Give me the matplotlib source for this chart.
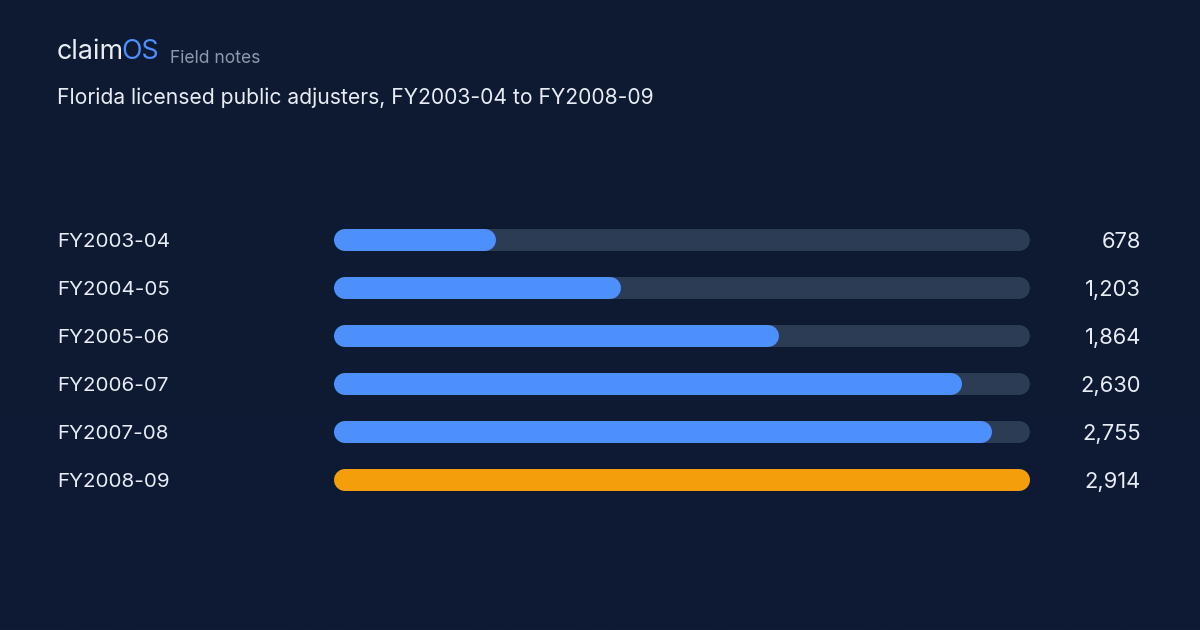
import numpy as np
import matplotlib
matplotlib.use("Agg")
import matplotlib.pyplot as plt
from matplotlib.colors import LinearSegmentedColormap
from matplotlib.transforms import IdentityTransform

# ---- data ----
categories = ["FY2003-04", "FY2004-05", "FY2005-06", "FY2006-07", "FY2007-08", "FY2008-09"]
values = [678, 1203, 1864, 2630, 2755, 2914]
value_labels = ["678", "1,203", "1,864", "2,630", "2,755", "2,914"]
highlight = "FY2008-09"

title_brand = "claim"
title_brand2 = "OS"
title_tag = "Field notes"
subtitle = "Florida licensed public adjusters, FY2003-04 to FY2008-09"

# ---- style ----
W, H = 1200, 630
BG_TOP = "#0f1a31"
BG_BOT = "#0e1b34"
TRACK = "#2d3c55"
BLUE = "#4d8ffd"
ORANGE = "#f59e0b"
TEXT = "#e8edf5"
MUTED = "#8d99ad"
FONT = ["Inter", "DejaVu Sans"]

fig = plt.figure(figsize=(W / 100, H / 100), dpi=100)
fig.patch.set_facecolor(BG_TOP)

# background gradient
bg = fig.add_axes([0, 0, 1, 1], zorder=0)
grad = np.linspace(0, 1, 256).reshape(-1, 1)
cmap = LinearSegmentedColormap.from_list("bg", [BG_TOP, BG_BOT])
bg.imshow(grad, aspect="auto", cmap=cmap, extent=[0, 1, 0, 1])
bg.set_axis_off()

# overlay axes in pixel coordinates for text
ov = fig.add_axes([0, 0, 1, 1], zorder=2)
ov.set_xlim(0, W)
ov.set_ylim(H, 0)
ov.set_axis_off()
ov.patch.set_alpha(0)

brand_fs = 19.3
brand_base = 59
t1 = ov.text(57, brand_base, title_brand, color=TEXT, fontsize=brand_fs, family=FONT,
             va="baseline", ha="left")
fig.canvas.draw()
bb1 = t1.get_window_extent()
t2 = ov.text(bb1.x1 - 3, H - brand_base, title_brand2, color=BLUE, fontsize=brand_fs,
             family=FONT, va="baseline", ha="left")
t2.set_transform(IdentityTransform())
ov.text(170, 63, title_tag, color=MUTED, fontsize=12.6, family=FONT,
        va="baseline", ha="left")
ov.text(57, 104, subtitle, color=TEXT, fontsize=15.2, family=FONT, va="baseline", ha="left")

# bar axes: track spans x=334..1030 px, rows centered at y=240..480
x0, x1 = 334, 1030
y_top, y_bot = 216, 504
bar_ax = fig.add_axes([x0 / W, 1 - y_bot / H, (x1 - x0) / W, (y_bot - y_top) / H], zorder=1)
bar_ax.set_xlim(0, max(values))
n = len(categories)
bar_ax.set_ylim(n - 0.5, -0.5)
bar_ax.set_axis_off()
bar_ax.patch.set_alpha(0)

bar_h_px = 22
lw_pt = bar_h_px * 72 / 100
px_per_unit = (x1 - x0) / max(values)
cap = (bar_h_px / 2) / px_per_unit

ypos = np.arange(n)
for i, (cat, v) in enumerate(zip(categories, values)):
    bar_ax.plot([cap, max(values) - cap], [ypos[i], ypos[i]], color=TRACK, lw=lw_pt,
                solid_capstyle="round", zorder=1)
    col = ORANGE if cat == highlight else BLUE
    bar_ax.plot([cap, max(v - cap, cap)], [ypos[i], ypos[i]], color=col, lw=lw_pt,
                solid_capstyle="round", zorder=2)

row_px = (y_bot - y_top) / n
for i, (cat, lab) in enumerate(zip(categories, value_labels)):
    yc = y_top + row_px * (i + 0.5)
    ov.text(57, yc, cat, color=TEXT, fontsize=14.8, family=FONT, va="center_baseline", ha="left")
    ov.text(1141, yc, lab, color=TEXT, fontsize=15.8, family=FONT, va="center_baseline", ha="right")

fig.savefig("out.png", dpi=100, facecolor=fig.get_facecolor())
